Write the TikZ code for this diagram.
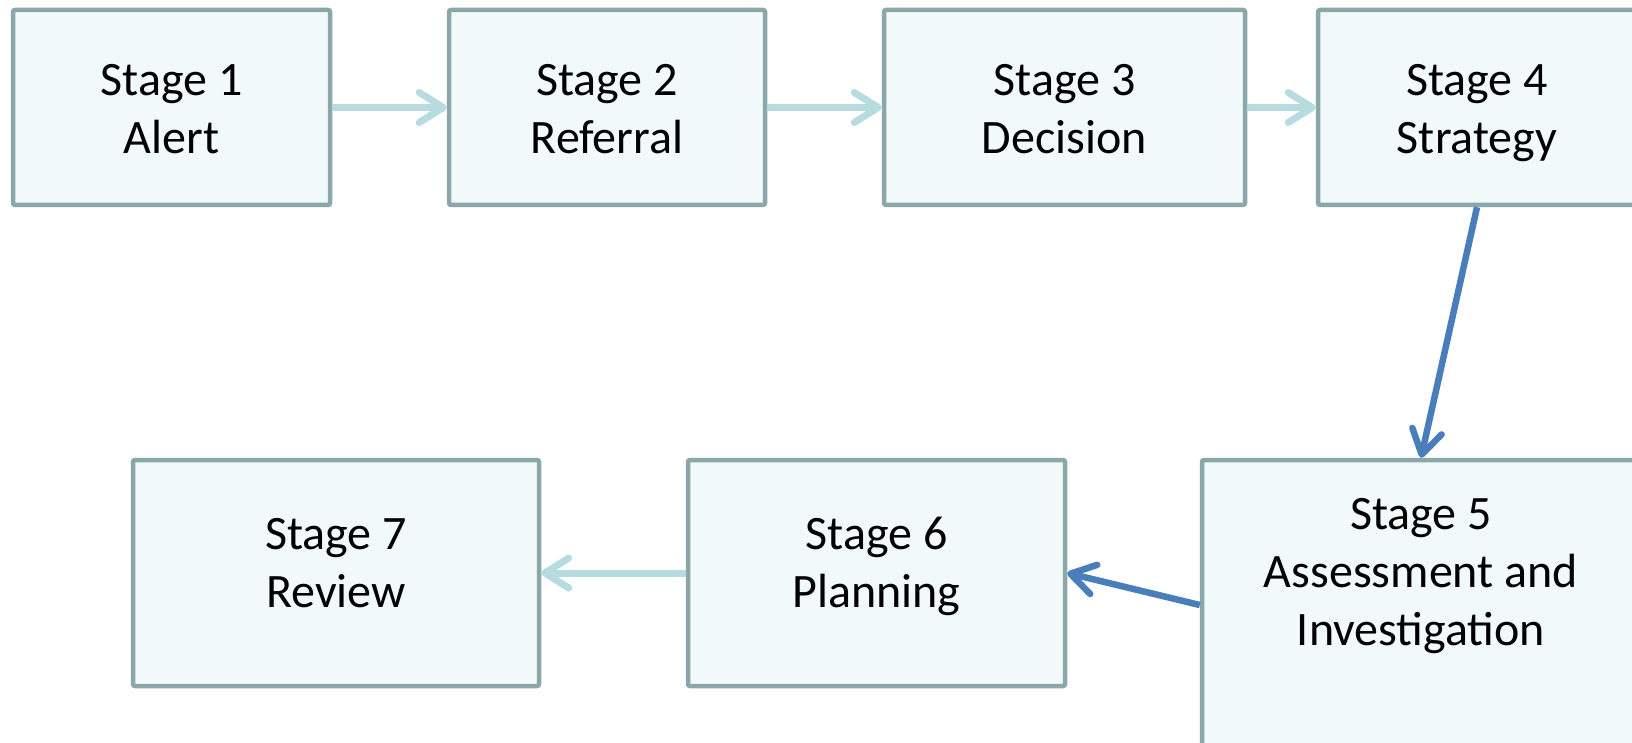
\documentclass[tikz,border=0pt]{standalone}
\usepackage{fontspec}
\setmainfont{Carlito}
\usetikzlibrary{arrows.meta}
\definecolor{bordc}{HTML}{8CA7AA}
\definecolor{fillc}{HTML}{F1F9F9}
\definecolor{lightarr}{HTML}{B6DCE0}
\definecolor{bluearr}{HTML}{4A7EBB}
\newcommand{\stln}[1]{\rule[-12.4pt]{0pt}{58pt}#1}
\newcommand{\stlnlow}[1]{\rule[-35.4pt]{0pt}{81pt}#1}
\tikzset{
  stagebox/.style={draw=bordc, fill=fillc, line width=4.5pt, rounded corners=2pt,
    inner sep=0pt, align=center, font=\fontsize{48}{58}\selectfont},
  stagetext/.style={inner sep=0pt, align=center, font=\fontsize{48}{58}\selectfont},
  lightflow/.style={draw=lightarr, line width=7pt,
    -{Straight Barb[length=24pt,width=30pt,line cap=round,line join=round]}},
  blueflow/.style={draw=bluearr, line width=6.5pt,
    -{Straight Barb[length=24pt,width=30pt,line cap=round,line join=round]}}
}
\begin{document}
\begin{tikzpicture}[x=1pt,y=-1pt]
\path[use as bounding box, fill=white] (0,0) rectangle (1632,743);
\clip (0,0) rectangle (1632,743);
\node[stagebox, minimum width=317pt, minimum height=195pt] (s1) at (171.5,107.5) {\stln{Stage 1}\\\stln{Alert}};
\node[stagebox, minimum width=316pt, minimum height=195pt] (s2) at (607,107.5) {\stln{Stage 2}\\\stln{Referral}};
\node[stagebox, minimum width=361pt, minimum height=195pt] (s3) at (1064.5,107.5) {\stln{Stage 3}\\\stln{Decision}};
\node[stagebox, minimum width=318pt, minimum height=195pt] (s4) at (1477,107.5) {\stln{Stage 4}\\\stln{Strategy}};
\node[stagebox, minimum width=438pt, minimum height=340pt] (s5) at (1421,630) {};
\node[stagetext] (s5t) at (1421,571) {\stln{Stage 5}\\\stln{Assessment and}\\\stln{Investigation}};
\node[stagebox, minimum width=377pt, minimum height=226pt] (s6) at (876.5,573) {\stln{Stage 6}\\\stlnlow{Planning}};
\node[stagebox, minimum width=406pt, minimum height=226pt] (s7) at (336,573) {\stln{Stage 7}\\\stlnlow{Review}};
\draw[lightflow] (s1.east) -- (s2.west);
\draw[lightflow] (s2.east) -- (s3.west);
\draw[lightflow] (s3.east) -- (s4.west);
\draw[blueflow] (s4.south) -- (s5.north);
\draw[blueflow] ([yshift=25pt]s5.west) -- (s6.east);
\draw[lightflow] (s6.west) -- (s7.east);
\end{tikzpicture}
\end{document}
